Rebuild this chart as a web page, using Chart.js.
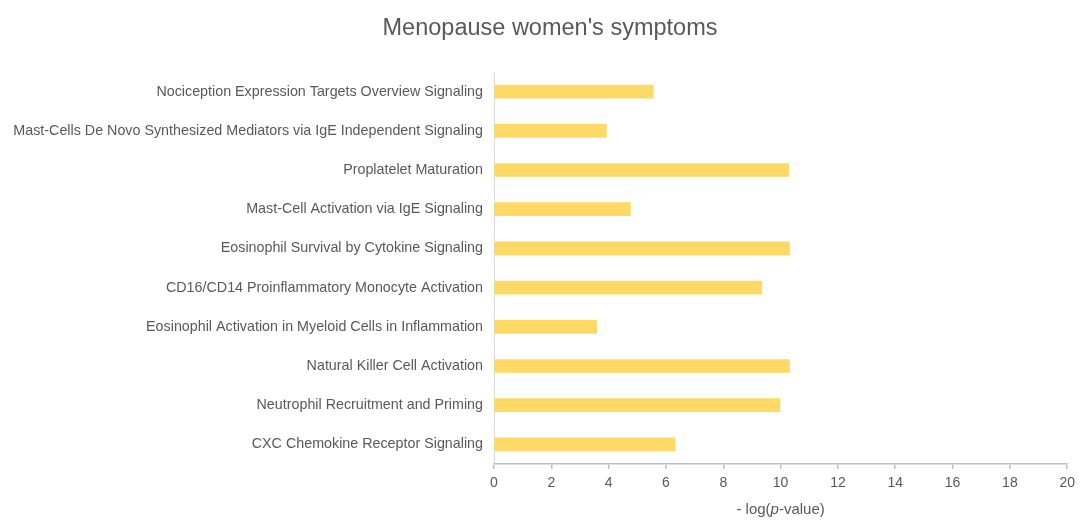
<!DOCTYPE html>
<html><head><meta charset="utf-8">
<script src="https://cdn.jsdelivr.net/npm/chart.js@4"></script>
<style>html,body{margin:0;padding:0;background:#fff}#wrap{width:1081px;height:520px}</style>
</head><body><div id="wrap"><canvas id="c"></canvas></div>
<script>
const categories = [
  "Nociception Expression Targets Overview Signaling",
  "Mast-Cells De Novo Synthesized Mediators via IgE Independent Signaling",
  "Proplatelet Maturation",
  "Mast-Cell Activation via IgE Signaling",
  "Eosinophil Survival by Cytokine Signaling",
  "CD16/CD14 Proinflammatory Monocyte Activation",
  "Eosinophil Activation in Myeloid Cells in Inflammation",
  "Natural Killer Cell Activation",
  "Neutrophil Recruitment and Priming",
  "CXC Chemokine Receptor Signaling"
];
const values = [5.56, 3.92, 10.28, 4.76, 10.31, 9.34, 3.58, 10.31, 9.98, 6.32];
const xTicks = [0, 2, 4, 6, 8, 10, 12, 14, 16, 18, 20];
const chartTitle = "Menopause women's symptoms";
const xTitleParts = [["- log(", "normal"], ["p", "italic"], ["-value)", "normal"]];

const FONT = "'Liberation Sans', Arial, sans-serif";
const GREY = '#595959';

const textPlugin = {
  id: 'texts',
  afterDraw(chart) {
    const ctx = chart.ctx, area = chart.chartArea;
    ctx.save();
    ctx.fillStyle = GREY;
    ctx.textBaseline = 'middle';
    ctx.font = 'normal 23.5px ' + FONT;
    ctx.textAlign = 'center';
    ctx.fillText(chartTitle, 550, 29);
    ctx.textAlign = 'left';
    let total = 0;
    const widths = xTitleParts.map(([t, s]) => { ctx.font = s + ' 15px ' + FONT; const w = ctx.measureText(t).width; total += w; return w; });
    let x = (area.left + area.right) / 2 - total / 2;
    xTitleParts.forEach(([t, s], i) => { ctx.font = s + ' 15px ' + FONT; ctx.fillText(t, x, 510); x += widths[i]; });
    ctx.restore();
  }
};

new Chart(document.getElementById('c'), {
  type: 'bar',
  data: { labels: categories, datasets: [{ data: values, backgroundColor: '#FFD966', barThickness: 13 }] },
  options: {
    indexAxis: 'y',
    responsive: true, maintainAspectRatio: false, animation: false,
    layout: { padding: { left: 0, right: 8, top: 72, bottom: 0 } },
    plugins: {
      legend: { display: false }, tooltip: { enabled: false }, title: { display: false }
    },
    scales: {
      x: {
        min: 0, max: 20,
        afterBuildTicks(s) { s.ticks = xTicks.map(v => ({ value: v })); },
        afterFit(s) { s.height = 56; },
        grid: { drawOnChartArea: false, drawTicks: true, tickLength: 5, color: '#bfbfbf', lineWidth: 1.5 },
        border: { color: '#bfbfbf', width: 1.5 },
        ticks: { color: GREY, font: { family: FONT, size: 14 }, padding: 6 }
      },
      y: {
        afterFit(s) { s.width = 494; },
        grid: { display: false, drawTicks: false },
        border: { color: '#d9d9d9', width: 1 },
        ticks: { color: GREY, font: { family: FONT, size: 14.3 }, padding: 11 }
      }
    }
  },
  plugins: [textPlugin]
});
</script></body></html>
